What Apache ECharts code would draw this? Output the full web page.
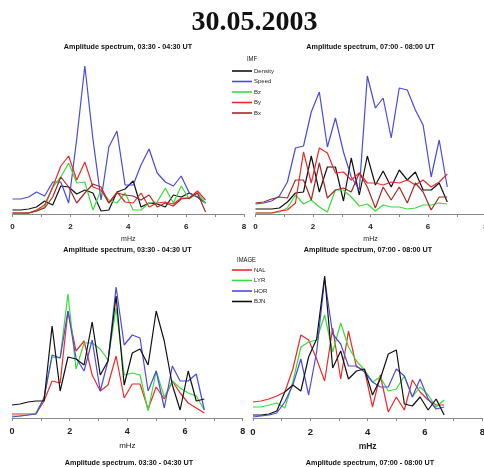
<!DOCTYPE html>
<html>
<head>
<meta charset="utf-8">
<script src="https://cdn.jsdelivr.net/npm/echarts@6/dist/echarts.min.js"></script>
<style>
html,body{margin:0;padding:0;background:#fff;}
#c{width:484px;height:467px;}
</style>
</head>
<body>
<div id="c"></div>
<script>
// frequency bins (mHz)
const freqs = [0.00,0.28,0.56,0.83,1.11,1.39,1.67,1.94,2.22,2.50,2.78,3.06,3.33,3.61,3.89,4.17,4.44,4.72,5.00,5.28,5.56,5.83,6.11,6.39,6.67];
const xTicks = [0,2,4,6,8];

const mainTitle = '30.05.2003';
const panelTitles = ['Amplitude spectrum, 03:30 - 04:30 UT','Amplitude spectrum, 07:00 - 08:00 UT',
                     'Amplitude spectrum, 03:30 - 04:30 UT','Amplitude spectrum, 07:00 - 08:00 UT'];
const footTitles = ['Amplitude spectrum. 03:30 - 04:30 UT','Amplitude spectrum, 07:00 - 08:00 UT'];
const xName = 'mHz';

// IMF group
const imfTitle = 'IMF';
const imfNames = ['Density','Speed','Bz','By','Bx'];
// 03:30-04:30
const imfA_Density = [4,4,5,7,13,9,28,27,20,24,21,3,4,22,25,33,7,11,10,7,19,17,21,17,11];
const imfA_Speed   = [15,15,17,22,18,32,32,11,75,148,75,14,67,83,29,29,49,65,41,32,28,38,21,17,11];
const imfA_Bz      = [0,0,1,3,7,27,37,51,31,32,4,24,14,11,21,4,4,11,12,26,11,28,15,21,11];
const imfA_By      = [1,1,1,4,9,27,48,58,34,52,27,24,11,22,12,11,21,7,11,12,10,16,16,23,14];
const imfA_Bx      = [1,1,1,3,6,17,37,27,11,21,30,27,11,21,19,18,14,19,7,11,8,15,16,21,2];
// 07:00-08:00
const imfB_Density = [5,5,5,6,12,21,22,58,22,47,47,13,56,19,58,29,43,27,44,34,42,24,24,31,12];
const imfB_Speed   = [10,11,13,18,32,66,68,102,122,67,96,62,37,24,138,106,116,76,126,124,104,89,37,74,27];
const imfB_Bz      = [1,1,1,2,6,19,10,14,7,2,24,24,17,8,10,3,9,7,7,5,6,9,9,11,10];
const imfB_By      = [1,1,1,3,4,11,62,31,66,61,41,42,34,41,31,31,29,32,31,34,29,34,27,32,40];
const imfB_Bx      = [11,12,15,17,16,34,34,14,51,16,24,26,22,41,27,6,27,14,27,11,31,22,4,17,17];

// IMAGE group
const imageTitle = 'IMAGE';
const imageNames = ['NAL','LYR','HOR','BJN'];
// 03:30-04:30
const imgA_NAL = [4,4,4,4,17,37,35,107,67,77,43,27,33,62,20,34,34,9,31,19,37,25,15,10,5];
const imgA_LYR = [2,2,3,5,20,61,60,124,49,75,75,69,58,110,43,45,43,7,47,21,37,30,25,22,8];
const imgA_HOR = [1,2,3,4,20,63,60,107,60,47,78,27,57,131,73,83,80,27,47,10,52,37,37,44,8];
const imgA_BJN = [13,14,16,17,17,92,27,61,59,53,96,43,57,122,33,65,69,53,107,77,33,8,47,17,19];
// 07:00-08:00
const imgB_NAL = [16,17,19,22,26,49,83,78,59,37,90,39,87,51,48,11,43,6,21,8,38,26,18,13,13];
const imgB_LYR = [11,11,13,15,10,36,71,76,78,103,66,95,71,57,48,36,41,27,29,42,21,31,23,11,18];
const imgB_HOR = [1,2,3,5,16,33,59,23,66,139,84,74,52,52,46,36,31,31,49,42,21,39,19,9,11];
const imgB_BJN = [3,3,4,7,26,33,27,61,79,142,50,67,39,47,49,23,39,64,68,14,12,21,8,19,3];

const imfColors = {Density:'#111111', Speed:'#4a4ae0', Bz:'#3cdc3c', By:'#ee2a2a', Bx:'#a82828'};
const imageColors = {NAL:'#ee2a2a', LYR:'#3cdc3c', HOR:'#4a4ae0', BJN:'#111111'};

const chart = echarts.init(document.getElementById('c'), null, {renderer:'canvas'});

const grids = [
  {left:12.5, top:54, width:231.5, height:160, outerBoundsMode:'none', containLabel:false},
  {left:255.5, top:54, width:230, height:160, outerBoundsMode:'none', containLabel:false},
  {left:12, top:268, width:230.7, height:150, outerBoundsMode:'none', containLabel:false},
  {left:253, top:268, width:229.3, height:150, outerBoundsMode:'none', containLabel:false}
];
const yMax = [160,160,150,150];
const labelSize = [8,8,9,9.5];
const nameSize = [7,7,8,8.5];
const nameWeight = ['normal','normal','normal','bold'];

function pairs(vals){ return freqs.map((f,i)=>[f, vals[i]]); }

const xAxes = grids.map((g,i)=>({
  type:'value', gridIndex:i, min:0, max:8, interval:2,
  axisLine:{show:true, onZero:false, lineStyle:{color:'#8a8a8a', width:1}},
  axisTick:{show:true, length:3, lineStyle:{color:'#8a8a8a'}},
  minorTick:{show:true, splitNumber:2, length:3, lineStyle:{color:'#8a8a8a'}},
  splitLine:{show:false},
  axisLabel:{fontSize:labelSize[i], fontWeight:'bold', color:'#222', margin:9,
    fontFamily:'Liberation Sans',
    formatter:(v)=> xTicks.indexOf(v) >= 0 ? String(v) : ''},
  name:xName, nameLocation:'middle', nameGap:i<2?22:24,
  nameTextStyle:{fontSize:nameSize[i], fontWeight:nameWeight[i], color:'#222', fontFamily:'Liberation Sans'}
}));
const yAxes = grids.map((g,i)=>({type:'value', gridIndex:i, min:0, max:yMax[i], show:false}));

const series = [];
function addGroup(idx, names, arrs, colors){
  names.forEach((n,k)=>{
    series.push({name:n, type:'line', xAxisIndex:idx, yAxisIndex:idx, data:pairs(arrs[k]),
      symbol:'none', lineStyle:{width:1.2, color:colors[n]}, itemStyle:{color:colors[n]},
      animation:false, silent:true});
  });
}
addGroup(0, imfNames, [imfA_Density,imfA_Speed,imfA_Bz,imfA_By,imfA_Bx], imfColors);
addGroup(1, imfNames, [imfB_Density,imfB_Speed,imfB_Bz,imfB_By,imfB_Bx], imfColors);
addGroup(2, imageNames, [imgA_NAL,imgA_LYR,imgA_HOR,imgA_BJN], imageColors);
addGroup(3, imageNames, [imgB_NAL,imgB_LYR,imgB_HOR,imgB_BJN], imageColors);

function txt(s, x, y, size, opts){
  opts = opts || {};
  return {type:'text', x:x, y:y, scaleX:opts.scaleX||1, silent:true,
    style:{text:s, fill:'#111', fontSize:size, fontWeight:opts.weight||'bold',
      fontFamily:opts.family||'Liberation Sans', align:opts.align||'center', verticalAlign:'middle'}};
}

const titlePos = [[128,47],[370.5,47],[127.5,250],[368,250]];
const footPos = [[129,463],[370,463]];
const graphics = [];
graphics.push(txt(mainTitle, 254.5, 23, 28, {family:'Liberation Serif'}));
panelTitles.forEach((t,i)=>graphics.push(txt(t, titlePos[i][0], titlePos[i][1], 8, {scaleX:0.9})));
footTitles.forEach((t,i)=>graphics.push(txt(t, footPos[i][0], footPos[i][1], 8, {scaleX:0.9})));
graphics.push(txt(imfTitle, 252, 59, 6.5, {weight:'normal', scaleX:0.9}));
graphics.push(txt(imageTitle, 237, 260, 6.5, {weight:'normal', align:'left', scaleX:0.9}));

const option = {
  animation:false,
  backgroundColor:'#ffffff',
  grid: grids,
  xAxis: xAxes,
  yAxis: yAxes,
  legend: [
    {data:imfNames, orient:'vertical', left:232, top:67, padding:0, itemGap:2.5,
     itemWidth:20, itemHeight:1.6, icon:'rect', selectedMode:false,
     textStyle:{fontSize:6, lineHeight:8, color:'#222', fontFamily:'Liberation Sans', padding:[0,0,0,-3]}},
    {data:imageNames, orient:'vertical', left:232, top:266, padding:0, itemGap:2.5,
     itemWidth:20, itemHeight:1.6, icon:'rect', selectedMode:false,
     textStyle:{fontSize:6, lineHeight:8, color:'#222', fontFamily:'Liberation Sans', padding:[0,0,0,-3]}}
  ],
  series: series,
  graphic: graphics
};
chart.setOption(option);
</script>
</body>
</html>
